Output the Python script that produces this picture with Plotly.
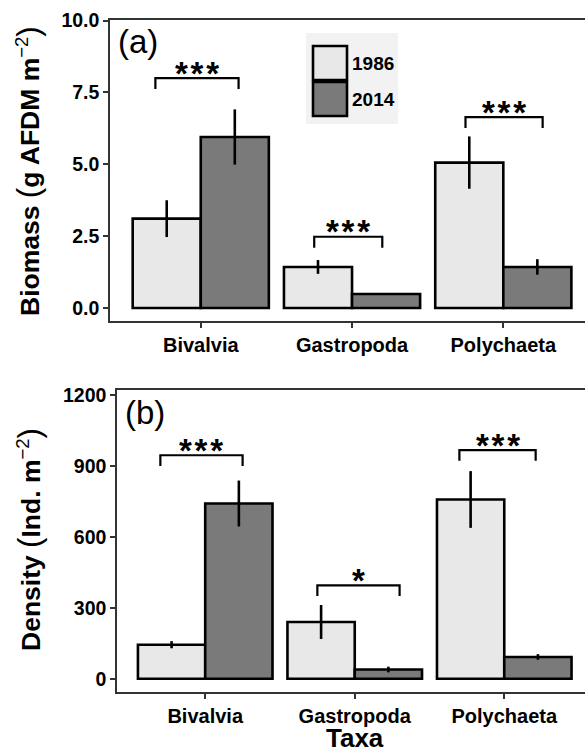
import plotly.graph_objects as go

# ---------------- data ----------------
categories = ["Bivalvia", "Gastropoda", "Polychaeta"]
years = ["1986", "2014"]

biomass_1986 = [3.11, 1.43, 5.06]
biomass_1986_se = [0.64, 0.24, 0.91]
biomass_2014 = [5.95, 0.49, 1.43]
biomass_2014_se = [0.96, 0.03, 0.27]

density_1986 = [144, 240, 758]
density_1986_se = [15, 72, 120]
density_2014 = [741, 39, 92]
density_2014_se = [97, 12, 12]

biomass_sig = ["***", "***", "***"]
biomass_bracket_y = [8.0, 2.48, 6.64]
biomass_bracket_left = [-0.30, -0.25, -0.25]
biomass_bracket_right = [0.25, 0.20, 0.26]

density_sig = ["***", "*", "***"]
density_bracket_y = [945, 395, 967]
density_bracket_left = [-0.30, -0.25, -0.30]
density_bracket_right = [0.25, 0.30, 0.21]

biomass_ticks = [0.0, 2.5, 5.0, 7.5, 10.0]
biomass_ticktext = ["0.0", "2.5", "5.0", "7.5", "10.0"]
density_ticks = [0, 300, 600, 900, 1200]

# ---------------- style ----------------
FONT = "Liberation Sans, Arial, Helvetica, sans-serif"
C1986 = "#e8e8e8"
C2014 = "#7a7a7a"
AXC = "#333333"
W, H = 585, 751

xpos = list(range(len(categories)))

fig = go.Figure()


def add_bars(vals1, se1, vals2, se2, xa, ya):
    for vals, se, col, name in [(vals1, se1, C1986, years[0]), (vals2, se2, C2014, years[1])]:
        fig.add_trace(go.Bar(
            x=xpos, y=vals, name=name, xaxis=xa, yaxis=ya,
            marker=dict(color=col, line=dict(color="black", width=2.6)),
            error_y=dict(type="data", array=se, color="black", thickness=2.6, width=0),
            showlegend=False,
        ))


add_bars(biomass_1986, biomass_1986_se, biomass_2014, biomass_2014_se, "x", "y")
add_bars(density_1986, density_1986_se, density_2014, density_2014_se, "x2", "y2")

shapes = []
annotations = []


def add_brackets(ys, lefts, rights, labels, tip, xr, yr):
    for i, (yv, lo, hi, lab) in enumerate(zip(ys, lefts, rights, labels)):
        x0 = xpos[i] + lo
        x1 = xpos[i] + hi
        shapes.append(dict(
            type="path", xref=xr, yref=yr,
            path=f"M {x0} {yv - tip} L {x0} {yv} L {x1} {yv} L {x1} {yv - tip}",
            line=dict(color="black", width=2.2),
        ))
        annotations.append(dict(
            x=(x0 + x1) / 2, y=yv, xref=xr, yref=yr,
            text="<b>" + "\u200a".join(lab) + "</b>", showarrow=False,
            yanchor="middle", yshift=5,
            font=dict(family=FONT, size=33, color="black"),
        ))


add_brackets(biomass_bracket_y, biomass_bracket_left, biomass_bracket_right, biomass_sig, 0.38, "x", "y")
add_brackets(density_bracket_y, density_bracket_left, density_bracket_right, density_sig, 45, "x2", "y2")

# panel labels
annotations.append(dict(x=116 / W, y=1 - 41 / H, xref="paper", yref="paper", text="(a)",
                        showarrow=False, xanchor="left", yanchor="middle",
                        font=dict(family=FONT, size=33, color="black")))
annotations.append(dict(x=123 / W, y=1 - 412 / H, xref="paper", yref="paper", text="(b)",
                        showarrow=False, xanchor="left", yanchor="middle",
                        font=dict(family=FONT, size=33, color="black")))

# y titles
annotations.append(dict(
    x=28 / W, y=1 - 171 / H, xref="paper", yref="paper", textangle=-90, showarrow=False,
    text="<b>Biomass</b> <span style='font-size:31px'>(</span><b>g AFDM m</b><sup>−2</sup><span style='font-size:31px'>)</span>",
    font=dict(family=FONT, size=26.5, color="black"), xanchor="center", yanchor="middle"))
annotations.append(dict(
    x=29 / W, y=1 - 540 / H, xref="paper", yref="paper", textangle=-90, showarrow=False,
    text="<b>Density</b> <span style='font-size:31px'>(</span><b>Ind. m</b><sup>−2</sup><span style='font-size:31px'>)</span>",
    font=dict(family=FONT, size=26.5, color="black"), xanchor="center", yanchor="middle"))

# x title
annotations.append(dict(x=355 / W, y=1 - 738 / H, xref="paper", yref="paper", text="<b>Taxa</b>",
                        showarrow=False, xanchor="center", yanchor="middle",
                        font=dict(family=FONT, size=26, color="black")))

# manual legend
shapes.append(dict(type="rect", xref="paper", yref="paper",
                   x0=306 / W, x1=398 / W, y0=1 - 124 / H, y1=1 - 33 / H,
                   fillcolor="#f2f2f2", line=dict(width=0), layer="above"))
for j, (col, name) in enumerate([(C1986, years[0]), (C2014, years[1])]):
    top = 46 + j * 36
    shapes.append(dict(type="rect", xref="paper", yref="paper",
                       x0=313 / W, x1=347 / W, y0=1 - (top + 34) / H, y1=1 - top / H,
                       fillcolor=col, line=dict(color="black", width=2.6), layer="above"))
    annotations.append(dict(x=350 / W, y=1 - (top + 17) / H, xref="paper", yref="paper",
                            text=f"<b>{name}</b>", showarrow=False, xanchor="left", yanchor="middle",
                            font=dict(family=FONT, size=19, color="black")))

xcommon = dict(
    tickmode="array", tickvals=xpos, ticktext=[f"<b>{c}</b>" for c in categories],
    showline=True, linecolor=AXC, linewidth=1.5, mirror=True,
    ticks="outside", ticklen=5, tickwidth=1.5, tickcolor=AXC,
    showgrid=False, zeroline=False, automargin=False,
    tickfont=dict(family=FONT, size=20, color="black"),
)
ycommon = dict(
    showline=True, linecolor=AXC, linewidth=1.5,
    ticks="outside", ticklen=5, tickwidth=1.5, tickcolor=AXC,
    showgrid=False, zeroline=False, automargin=False,
    tickfont=dict(family=FONT, size=19.5, color="black"),
)

fig.update_layout(
    width=W, height=H,
    margin=dict(l=0, r=0, t=0, b=0, autoexpand=False),
    paper_bgcolor="white", plot_bgcolor="white",
    barmode="group", bargap=0.1, bargroupgap=0,
    xaxis=dict(domain=[110 / W, 1], range=[-0.6, 2.54], anchor="y", **xcommon),
    yaxis=dict(domain=[1 - 321 / H, 1 - 20 / H], range=[-0.45, 10.02], anchor="x",
               tickmode="array", tickvals=biomass_ticks,
               ticktext=[f"<b>{t}</b>" for t in biomass_ticktext], **ycommon),
    xaxis2=dict(domain=[117 / W, 1], range=[-0.59, 2.54], anchor="y2", **xcommon),
    yaxis2=dict(domain=[1 - 692 / H, 1 - 390 / H], range=[-56, 1221], anchor="x2",
                tickmode="array", tickvals=density_ticks,
                ticktext=[f"<b>{t}</b>" for t in density_ticks], **ycommon),
    shapes=shapes, annotations=annotations,
    showlegend=False,
)

fig.write_html("out.html", config={"displayModeBar": False},
               post_script="document.body.style.margin='0';document.body.style.overflow='hidden';")
